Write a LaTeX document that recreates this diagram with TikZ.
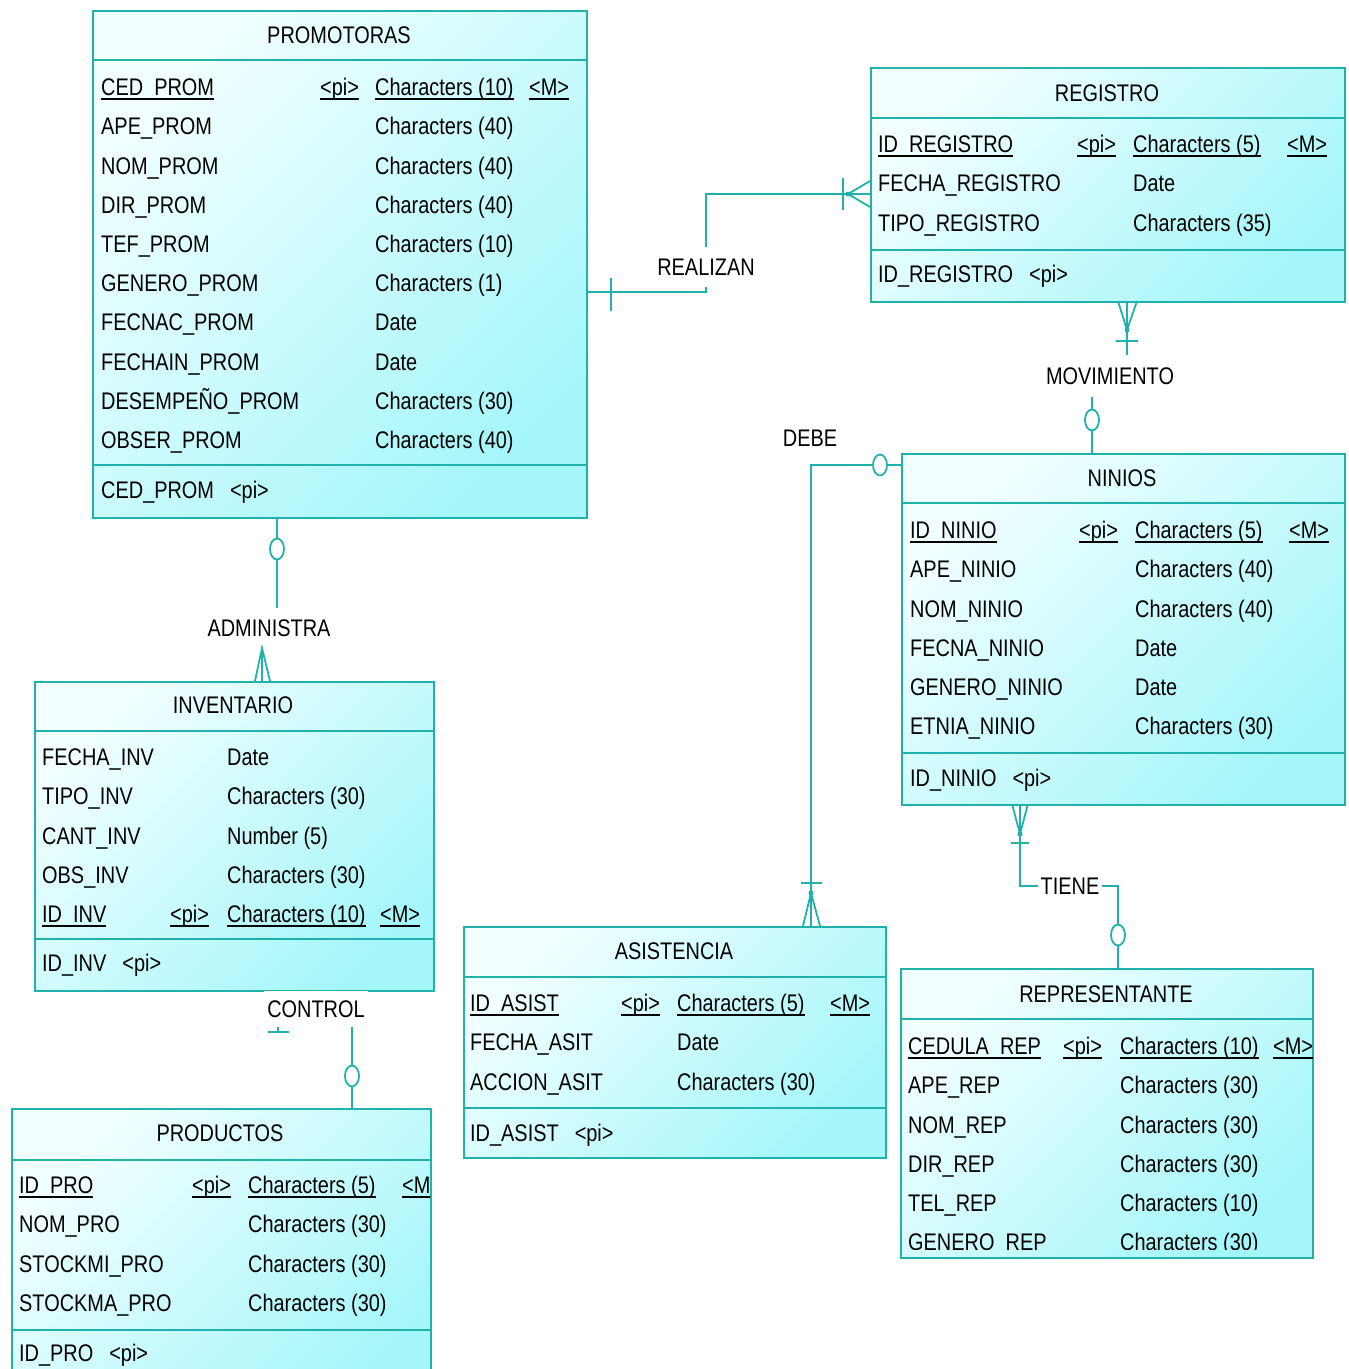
\documentclass[tikz,border=0pt]{standalone}
\usepackage{fontspec}
\setmainfont{Liberation Sans}[FakeStretch=0.83]
\usepackage{array}
\usetikzlibrary{shapes.geometric, backgrounds, calc}
\definecolor{entline}{RGB}{32,178,170}
\definecolor{entlight}{RGB}{242,255,255}
\definecolor{entdark}{RGB}{165,246,250}
\newcommand{\erfont}{\fontsize{24}{39.2}\selectfont}
\newcommand{\pkey}[1]{\leavevmode\setbox0\hbox{#1}\rlap{\rule[-4.5pt]{\wd0}{2pt}}\box0}
\newcolumntype{L}[1]{>{\raggedright\arraybackslash}p{#1}}
\setlength{\tabcolsep}{0pt}

\begin{document}
\begin{tikzpicture}[
    x=1pt, y=-1pt,
    entity/.style={rectangle, draw=entline, line width=2pt, top color=entlight, bottom color=entdark, shading angle=45, anchor=north west, inner sep=0pt},
    entsep/.style={draw=entline, line width=2pt},
    title/.style={font=\erfont, inner sep=0pt},
    attrs/.style={font=\erfont, anchor=north west, inner sep=0pt},
    ident/.style={font=\erfont, anchor=base west, inner sep=0pt},
    relname/.style={font=\erfont, fill=white, inner xsep=3pt, inner ysep=0pt},
    rel/.style={draw=entline, line width=2.2pt},
    crow/.style={draw=entline, line width=1.8pt},
    optc/.style={ellipse, draw=entline, fill=white, line width=1.8pt, minimum width=14pt, minimum height=21pt, inner sep=0pt}
]
    \useasboundingbox (0,0) rectangle (1349,1369);
    \clip (0,0) rectangle (1349,1369);

    % PROMOTORAS
    \node[entity, minimum width=494pt, minimum height=507pt] (prom) at (92,10) {};
    \draw[entsep] (prom.west |- 0,60) -- (prom.east |- 0,60) (prom.west |- 0,465) -- (prom.east |- 0,465);
    \node[title] (promtitle) at (339,35) {PROMOTORAS};
    \node[attrs] (promattr) at (101,68) {
        \begin{tabular}{L{219pt}L{55pt}L{154pt}l}
        \pkey{CED\_PROM} & \pkey{<pi>} & \pkey{Characters (10)} & \pkey{<M>}\\
        APE\_PROM & & Characters (40) & \\
        NOM\_PROM & & Characters (40) & \\
        DIR\_PROM & & Characters (40) & \\
        TEF\_PROM & & Characters (10) & \\
        GENERO\_PROM & & Characters (1) & \\
        FECNAC\_PROM & & Date & \\
        FECHAIN\_PROM & & Date & \\
        DESEMPEÑO\_PROM & & Characters (30) & \\
        OBSER\_PROM & & Characters (40) &
        \end{tabular}
    };
    \node[ident] (promid) at (101,498.6) {CED\_PROM\hspace{16pt}<pi>};

    % REGISTRO
    \node[entity, minimum width=474pt, minimum height=234pt] (reg) at (870,67) {};
    \draw[entsep] (reg.west |- 0,118) -- (reg.east |- 0,118) (reg.west |- 0,250) -- (reg.east |- 0,250);
    \node[title] (regtitle) at (1107,93) {REGISTRO};
    \node[attrs] (regattr) at (878,125) {
        \begin{tabular}{L{199pt}L{56pt}L{154pt}l}
        \pkey{ID\_REGISTRO} & \pkey{<pi>} & \pkey{Characters (5)} & \pkey{<M>}\\
        FECHA\_REGISTRO & & Date & \\
        TIPO\_REGISTRO & & Characters (35) &
        \end{tabular}
    };
    \node[ident] (regid) at (878,282.6) {ID\_REGISTRO\hspace{16pt}<pi>};

    % NINIOS
    \node[entity, minimum width=443pt, minimum height=351pt] (nin) at (901,453) {};
    \draw[entsep] (nin.west |- 0,503) -- (nin.east |- 0,503) (nin.west |- 0,753) -- (nin.east |- 0,753);
    \node[title] (nintitle) at (1122,478) {NINIOS};
    \node[attrs] (ninattr) at (910,511) {
        \begin{tabular}{L{169pt}L{56pt}L{154pt}l}
        \pkey{ID\_NINIO} & \pkey{<pi>} & \pkey{Characters (5)} & \pkey{<M>}\\
        APE\_NINIO & & Characters (40) & \\
        NOM\_NINIO & & Characters (40) & \\
        FECNA\_NINIO & & Date & \\
        GENERO\_NINIO & & Date & \\
        ETNIA\_NINIO & & Characters (30) &
        \end{tabular}
    };
    \node[ident] (ninid) at (910,786.6) {ID\_NINIO\hspace{16pt}<pi>};

    % INVENTARIO
    \node[entity, minimum width=399pt, minimum height=309pt] (inv) at (34,681) {};
    \draw[entsep] (inv.west |- 0,731) -- (inv.east |- 0,731) (inv.west |- 0,939) -- (inv.east |- 0,939);
    \node[title] (invtitle) at (233,705) {INVENTARIO};
    \node[attrs] (invattr) at (42,738) {
        \begin{tabular}{L{128pt}L{57pt}L{153pt}l}
        FECHA\_INV & & Date & \\
        TIPO\_INV & & Characters (30) & \\
        CANT\_INV & & Number (5) & \\
        OBS\_INV & & Characters (30) & \\
        \pkey{ID\_INV} & \pkey{<pi>} & \pkey{Characters (10)} & \pkey{<M>}
        \end{tabular}
    };
    \node[ident] (invid) at (42,971.6) {ID\_INV\hspace{16pt}<pi>};

    % PRODUCTOS
    \node[entity, minimum width=419pt, minimum height=300pt] (prod) at (11,1108) {};
    \draw[entsep] (prod.west |- 0,1160) -- (prod.east |- 0,1160) (prod.west |- 0,1330) -- (prod.east |- 0,1330);
    \node[title] (prodtitle) at (220,1133) {PRODUCTOS};
    \begin{scope}
        \clip ([xshift=1pt,yshift=-1pt]prod.north west) rectangle ([xshift=-2pt]prod.south east);
        \node[attrs] (prodattr) at (19,1166) {
            \begin{tabular}{L{173pt}L{56pt}L{154pt}l}
            \pkey{ID\_PRO} & \pkey{<pi>} & \pkey{Characters (5)} & \pkey{<M>}\\
            NOM\_PRO & & Characters (30) & \\
            STOCKMI\_PRO & & Characters (30) & \\
            STOCKMA\_PRO & & Characters (30) &
            \end{tabular}
        };
        \node[ident] (prodid) at (19,1361.6) {ID\_PRO\hspace{16pt}<pi>};
    \end{scope}

    % ASISTENCIA
    \node[entity, minimum width=422pt, minimum height=231pt] (asis) at (463,926) {};
    \draw[entsep] (asis.west |- 0,977) -- (asis.east |- 0,977) (asis.west |- 0,1108) -- (asis.east |- 0,1108);
    \node[title] (asistitle) at (674,951) {ASISTENCIA};
    \node[attrs] (asisattr) at (470,984) {
        \begin{tabular}{L{151pt}L{56pt}L{153pt}l}
        \pkey{ID\_ASIST} & \pkey{<pi>} & \pkey{Characters (5)} & \pkey{<M>}\\
        FECHA\_ASIT & & Date & \\
        ACCION\_ASIT & & Characters (30) &
        \end{tabular}
    };
    \node[ident] (asisid) at (470,1141.6) {ID\_ASIST\hspace{16pt}<pi>};

    % REPRESENTANTE
    \node[entity, minimum width=412pt, minimum height=289pt] (rep) at (900,968) {};
    \draw[entsep] (rep.west |- 0,1019) -- (rep.east |- 0,1019);
    \node[title] (reptitle) at (1106,994) {REPRESENTANTE};
    \begin{scope}
        \clip ([xshift=1pt,yshift=-1pt]rep.north west) rectangle ([xshift=-1pt,yshift=10pt]rep.south east);
        \node[attrs] (repattr) at (908,1027) {
            \begin{tabular}{L{155pt}L{57pt}L{153pt}l}
            \pkey{CEDULA\_REP} & \pkey{<pi>} & \pkey{Characters (10)} & \pkey{<M>}\\
            APE\_REP & & Characters (30) & \\
            NOM\_REP & & Characters (30) & \\
            DIR\_REP & & Characters (30) & \\
            TEL\_REP & & Characters (10) & \\
            GENERO\_REP & & Characters (30) &
            \end{tabular}
        };
    \end{scope}

    % Relationship names
    \node[relname, minimum height=40pt] (realizan) at (706,267) {REALIZAN};
    \node[relname, minimum height=42pt] (movimiento) at (1110,376) {MOVIMIENTO};
    \node[relname] (debe) at (810,438) {DEBE};
    \node[relname, minimum height=40pt] (administra) at (269,628) {ADMINISTRA};
    \node[relname, minimum height=36pt] (control) at (316,1009) {CONTROL};
    \node[relname] (tiene) at (1070,886) {TIENE};
    \coordinate (ctrlbar) at (278,1032);

    % Relationship lines
    \begin{scope}[on background layer]
        \draw[rel] (prom.east |- 0,292) -| (realizan.center) |- (reg.west |- 0,194);
        \draw[rel] (reg.south -| 1127,0) |- (movimiento.center) -| (nin.north -| 1092,0);
        \draw[rel] (nin.west |- 0,465) -| (asis.north -| 811,0);
        \draw[rel] (prom.south -| 277,0) |- (administra.center) -| (inv.north -| 262,0);
        \draw[rel] (inv.south -| ctrlbar) -- (ctrlbar);
        \draw[rel] (control.center) -| (prod.north -| 352,0);
        \draw[rel] (nin.south -| 1020,0) |- (tiene.center) -| (rep.north -| 1118,0);
    \end{scope}

    % Cardinalities
    \draw[rel] (611,278) -- (611,311);
    \draw[rel] (843,178) -- (843,210);
    \draw[crow] (870,181) -- (848,194) -- (870,207);
    \fill[entline] (848,194) circle (2.5pt);

    \draw[crow] (1118,301) -- (1127,330) -- (1137,301);
    \fill[entline] (1127,330) circle (2.5pt);
    \draw[rel] (1116,341) -- (1138,341);
    \node[optc] (movopt) at (1092,420) {};

    \node[optc] (debeopt) at (880,465) {};
    \draw[rel] (801,883) -- (822,883);
    \draw[crow] (803,926) -- (811,893) -- (820,926);
    \fill[entline] (811,893) circle (2.5pt);

    \node[optc] (admopt) at (277,549) {};
    \draw[crow] (255,681) -- (262,648) -- (270,681);

    \node[optc] (ctrlopt) at (352,1076) {};
    \draw[rel] (268,1032) -- (289,1032);

    \draw[crow] (1012,804) -- (1020,834) -- (1028,804);
    \fill[entline] (1020,834) circle (2.5pt);
    \draw[rel] (1011,843) -- (1029,843);
    \node[optc] (tieneopt) at (1118,935) {};

\end{tikzpicture}
\end{document}
